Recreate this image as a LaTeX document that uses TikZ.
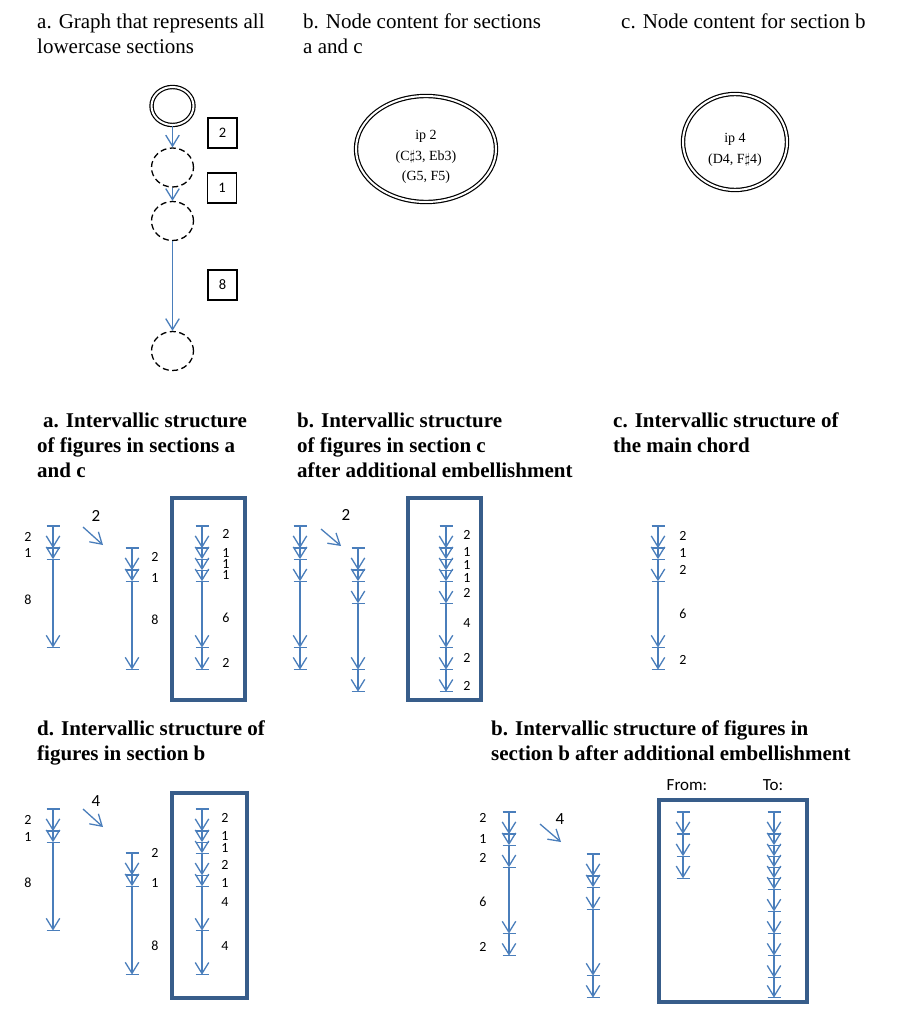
\documentclass[tikz,border=0pt]{standalone}
\usepackage{fontspec}
\setmainfont{Liberation Serif}
\newfontfamily\numfont{Carlito}
\usetikzlibrary{arrows.meta, shapes.geometric}

\definecolor{lineblue}{HTML}{4A7EBB}
\definecolor{boxblue}{HTML}{385D8A}

% one ladder of intervals: x, top y, running sums of the intervals
\newcommand{\ladder}[3]{%
  \draw[tick] (#1-6.5,#2) -- (#1+6.5,#2);
  \foreach \t [remember=\t as \tp (initially 0)] in {#3} {
    \draw[seg] (#1,#2+11.05*\tp) -- (#1,#2+11.05*\t);
    \draw[tick] (#1-6.5,#2+11.05*\t) -- (#1+6.5,#2+11.05*\t);
  }}

\begin{document}
\begin{tikzpicture}[x=1pt,y=-1pt]
  \tikzset{seg/.style = {lineblue, line width=1.3pt, -{Straight Barb[length=11pt,width=13.5pt]}}}
  \tikzset{tick/.style = {lineblue, line width=1.3pt}}
  \tikzset{frame/.style = {boxblue, line width=3.5pt}}
  \tikzset{head/.style = {anchor=north west, align=left, inner sep=0pt, font=\fontsize{21pt}{25pt}\selectfont}}
  \tikzset{bhead/.style = {head, font=\bfseries\fontsize{21pt}{25pt}\selectfont}}
  \tikzset{num/.style = {inner sep=0pt, font=\numfont\fontsize{14pt}{14pt}\selectfont}}
  \tikzset{bignum/.style = {inner sep=0pt, font=\numfont\fontsize{17pt}{17pt}\selectfont}}
  \tikzset{state/.style = {shape=ellipse, draw, minimum width=42pt, minimum height=39pt, line width=1.3pt, dash pattern=on 6pt off 3.5pt}}
  \tikzset{start/.style = {shape=ellipse, draw, double, double distance=2pt, line width=1.2pt, minimum width=42pt, minimum height=38pt}}
  \tikzset{step box/.style = {draw, line width=1.1pt, minimum width=29pt, minimum height=30pt, inner sep=0pt, font=\numfont\fontsize{14.5pt}{15pt}\selectfont}}
  \tikzset{bubble/.style = {shape=ellipse, draw, double, double distance=2pt, line width=1.2pt}}
  \tikzset{bubtext/.style = {align=center, inner sep=0pt, font=\fontsize{14pt}{20.5pt}\selectfont}}
  \useasboundingbox (0,0) rectangle (900,1033);

  % headings
  \node[head] (ha) at (37,13.5) {a. Graph that represents all\\lowercase sections};
  \node[head] (hb) at (303,13.5) {b. Node content for sections\\a and c};
  \node[head] (hc) at (621,13.5) {c. Node content for section b};

  \node[bhead] (ia) at (37,412.5) {\hspace*{6pt}a. Intervallic structure\\of figures in sections a\\and c};
  \node[bhead] (ib) at (297,412.5) {b. Intervallic structure\\of figures in section c\\after additional embellishment};
  \node[bhead] (ic) at (613,412.5) {c. Intervallic structure of\\the main chord};
  \node[bhead] (id) at (37,720.5) {d. Intervallic structure of\\figures in section b};
  \node[bhead] (ie) at (491,720.5) {b. Intervallic structure of figures in\\section b after additional embellishment};

  % graph of the lowercase sections
  \node[start] (s0) at (172.5,106) {};
  \node[state] (s1) at (172.5,167.5) {};
  \node[state] (s2) at (172.5,221) {};
  \node[state] (s3) at (172.5,351) {};
  \node[step box] (w1) at (222.5,133) {2};
  \node[step box] (w2) at (222,188) {1};
  \node[step box] (w3) at (222.5,285) {8};
  \draw[seg] (s0) -- (s1);
  \draw[seg] (s1) -- (s2);
  \draw[seg] (s2) -- (s3);

  % node contents
  \node[bubble, minimum width=140pt, minimum height=106pt] (nac) at (426,149) {};
  \node[bubtext] (tac) at (426,157) {ip 2\\(C$\sharp$3, Eb3)\\(G5, F5)};
  \node[bubble, minimum width=104pt, minimum height=96pt] (nb) at (735,142) {};
  \node[bubtext] (tb) at (735,150) {ip 4\\(D4, F$\sharp$4)};

  % a. sections a and c
  \ladder{53}{526}{2,3,11}
  \node[num] (a1) at (28,537) {2};
  \node[num] (a2) at (28,553) {1};
  \node[num] (a3) at (28,600) {8};
  \coordinate (pa) at (83,527);
  \coordinate (qa) at (103,545);
  \draw[seg] (pa) -- (qa);
  \node[bignum] (ka) at (96,516) {2};
  \ladder{132}{548}{2,3,11}
  \node[num] (a4) at (155,557) {2};
  \node[num] (a5) at (155,578) {1};
  \node[num] (a6) at (155,620) {8};
  \draw[frame] (172,498) rectangle (245,700);
  \ladder{202}{526}{2,3,4,5,11,13}
  \node[num] (a7) at (226,534) {2};
  \node[num] (a8) at (226,553) {1};
  \node[num] (a9) at (226,564) {1};
  \node[num] (a10) at (226,575) {1};
  \node[num] (a11) at (226,618) {6};
  \node[num] (a12) at (226,663) {2};

  % b. section c
  \ladder{300}{526}{2,3,5,11,13}
  \coordinate (pb) at (321,529);
  \coordinate (qb) at (341,546);
  \draw[seg] (pb) -- (qb);
  \node[bignum] (kb) at (346,515) {2};
  \ladder{358}{548}{2,3,5,11,13}
  \draw[frame] (408,498) rectangle (481,700);
  \ladder{446}{526}{2,3,4,5,7,11,13,15}
  \node[num] (b1) at (467,535) {2};
  \node[num] (b2) at (467,552) {1};
  \node[num] (b3) at (467,565) {1};
  \node[num] (b4) at (467,578) {1};
  \node[num] (b5) at (467,593) {2};
  \node[num] (b6) at (467,623) {4};
  \node[num] (b7) at (467,658) {2};
  \node[num] (b8) at (467,686) {2};

  % c. main chord
  \ladder{658}{526}{2,3,5,11,13}
  \node[num] (c1) at (683,536) {2};
  \node[num] (c2) at (683,553) {1};
  \node[num] (c3) at (683,570) {2};
  \node[num] (c4) at (683,614) {6};
  \node[num] (c5) at (683,660) {2};

  % d. section b
  \ladder{53}{809}{2,3,11}
  \node[num] (d1) at (28,820) {2};
  \node[num] (d2) at (28,837) {1};
  \node[num] (d3) at (28,883) {8};
  \coordinate (pd) at (83,809);
  \coordinate (qd) at (103,827);
  \draw[seg] (pd) -- (qd);
  \node[bignum] (kd) at (96,801) {4};
  \ladder{132}{853}{2,3,11}
  \node[num] (d4) at (155,853) {2};
  \node[num] (d5) at (155,883) {1};
  \node[num] (d6) at (155,946) {8};
  \draw[frame] (172,793) rectangle (247,998);
  \ladder{202}{809}{2,3,4,6,7,11,15}
  \node[num] (d7) at (225,818) {2};
  \node[num] (d8) at (225,836) {1};
  \node[num] (d9) at (225,848) {1};
  \node[num] (d10) at (225,865) {2};
  \node[num] (d11) at (225,883) {1};
  \node[num] (d12) at (225,902) {4};
  \node[num] (d13) at (225,946) {4};

  % e. section b, embellished
  \ladder{509}{812}{2,3,5,11,13}
  \node[num] (e1) at (483,818) {2};
  \node[num] (e2) at (483,839) {1};
  \node[num] (e3) at (483,858) {2};
  \node[num] (e4) at (483,902) {6};
  \node[num] (e5) at (483,947) {2};
  \coordinate (pe) at (540,824);
  \coordinate (qe) at (561,842);
  \draw[seg] (pe) -- (qe);
  \node[bignum] (ke) at (560,819) {4};
  \ladder{593}{854}{2,3,5,11,13}
  \draw[frame] (659,800) rectangle (807,1002);
  \node[bignum] (from) at (687,785) {From:};
  \node[bignum] (to) at (773,785) {To:};
  \ladder{683}{812}{2,4,6}
  \ladder{774}{812}{2,3,4,5,6,7,9,11,13,15,16.8}
\end{tikzpicture}
\end{document}
